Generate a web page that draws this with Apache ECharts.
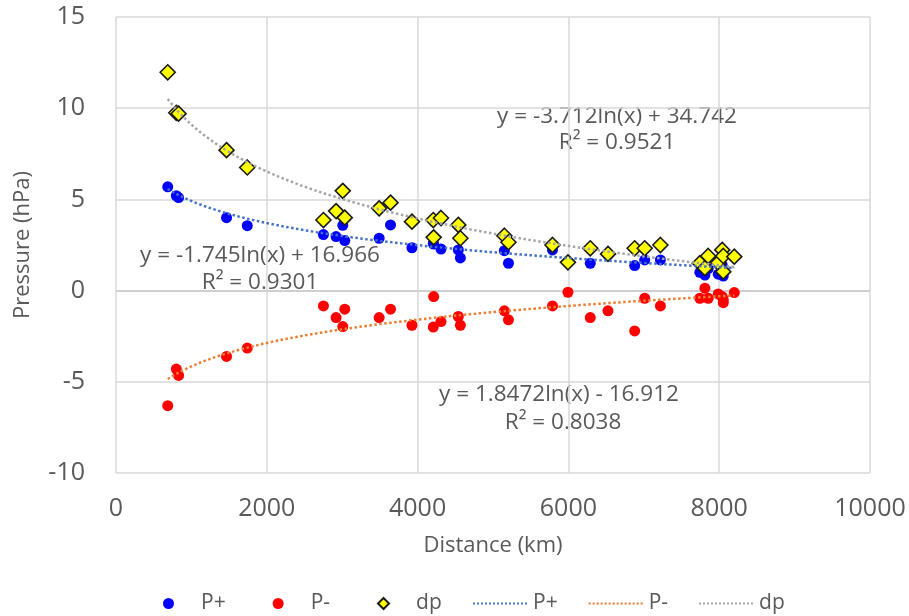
<!DOCTYPE html>
<html>
<head>
<meta charset="utf-8">
<script src="https://cdn.jsdelivr.net/npm/echarts@6/dist/echarts.min.js"></script>
<style>
html, body { margin: 0; padding: 0; background: #fff; }
#main { width: 909px; height: 616px; }
</style>
</head>
<body>
<div id="main"></div>
<script>
/* данные */
let distance = [686, 800, 830, 1466, 1741, 2751, 2919, 3008, 3034, 3490, 3641, 3925, 4208, 4213, 4310, 4540, 4567,
  5151, 5205, 5789, 5994, 6290, 6525, 6879, 7012, 7220, 7743, 7810, 7854, 7987, 8040, 8054, 8054, 8200];
let pPlus = [5.69, 5.2, 5.1, 4.0, 3.56, 3.07, 2.96, 3.58, 2.74, 2.87, 3.6, 2.35, 2.59, 2.55, 2.28, 2.23, 1.79,
  2.19, 1.5, 2.23, 1.59, 1.5, 1.95, 1.37, 1.68, 1.68, 1.0, 0.85, 1.2, 0.9, 1.4, 0.8, 1.1, 1.85];
let pMinus = [-6.31, -4.3, -4.65, -3.61, -3.15, -0.84, -1.48, -1.97, -1.02, -1.48, -1.02, -1.9, -2.0, -0.33, -1.7, -1.42, -1.9,
  -1.11, -1.6, -0.84, -0.09, -1.48, -1.11, -2.21, -0.42, -0.84, -0.42, 0.13, -0.42, -0.18, -0.33, -0.66, -0.5, -0.11];
let dp = [11.97, 9.75, 9.7, 7.7, 6.75, 3.87, 4.36, 5.47, 4.0, 4.51, 4.82, 3.78, 3.87, 2.92, 3.98, 3.6, 2.87,
  3.01, 2.65, 2.5, 1.55, 2.32, 2.01, 2.32, 2.32, 2.5, 1.5, 1.23, 1.9, 1.53, 2.23, 1.04, 1.9, 1.86];

/* линии тренда из уравнений на графике: y = a*ln(x) + b */
let trendPlus = [-1.745, 16.966];
let trendMinus = [1.8472, -16.912];
let trendDp = [-3.712, 34.742];
let eqPlus = ['y = -1.745ln(x) + 16.966', 'R² = 0.9301'];
let eqMinus = ['y = 1.8472ln(x) - 16.912', 'R² = 0.8038'];
let eqDp = ['y = -3.712ln(x) + 34.742', 'R² = 0.9521'];

let xTicks = [0, 2000, 4000, 6000, 8000, 10000];
let yTicks = [-10, -5, 0, 5, 10, 15];

function pairs(ys) {
  return distance.map((d, i) => [d, ys[i]]);
}
function trend(c) {
  let x0 = Math.min.apply(null, distance), x1 = Math.max.apply(null, distance);
  let out = [];
  for (let i = 0; i <= 80; i++) {
    let x = x0 + (x1 - x0) * i / 80;
    out.push([x, c[0] * Math.log(x) + c[1]]);
  }
  return out;
}

let font = 'Open Sans';
let grey = '#595959';
let eqFont = '22.5px "Open Sans"';

var myChart = echarts.init(document.getElementById('main'));
option = {
  backgroundColor: '#ffffff',
  animation: false,
  textStyle: { fontFamily: font },
  grid: { left: 116, right: 39, top: 17, bottom: 143 },
  xAxis: {
    type: 'value',
    min: xTicks[0], max: xTicks[xTicks.length - 1], interval: 2000,
    name: 'Distance (km)', nameLocation: 'middle', nameGap: 62,
    nameTextStyle: { color: grey, fontSize: 22, fontFamily: font },
    axisLine: { show: false },
    axisTick: { show: false },
    axisLabel: { color: grey, fontSize: 25, margin: 23, fontFamily: font, formatter: v => String(v) },
    splitLine: { lineStyle: { color: '#d9d9d9', width: 1.5 } }
  },
  yAxis: {
    type: 'value',
    min: yTicks[0], max: yTicks[yTicks.length - 1], interval: 5,
    name: 'Pressure (hPa)', nameLocation: 'middle', nameGap: 82,
    nameTextStyle: { color: grey, fontSize: 22, fontFamily: font },
    axisLine: { show: false },
    axisTick: { show: false },
    axisLabel: { color: grey, fontSize: 25, margin: 31, fontFamily: font, formatter: v => String(v) },
    splitLine: { lineStyle: { color: ['#d9d9d9', '#d9d9d9', '#bfbfbf', '#d9d9d9', '#d9d9d9', '#d9d9d9'], width: 1.5 } }
  },
  legend: [{
    data: ['P+', 'P-', 'dp'],
    left: 158, top: 588,
    itemWidth: 11, itemHeight: 11, itemGap: 47,
    textStyle: { color: grey, fontSize: 21, fontFamily: font, padding: [0, 0, 0, 22] }
  }, {
    data: ['P+ trend', 'P- trend', 'dp trend'],
    left: 467, top: 588,
    itemWidth: 55, itemHeight: 11, itemGap: 30,
    itemStyle: { opacity: 0 },
    formatter: name => name.replace(' trend', ''),
    textStyle: { color: grey, fontSize: 21, fontFamily: font }
  }],
  series: [
    { name: 'P+', type: 'scatter', data: pairs(pPlus), symbol: 'circle', symbolSize: 11,
      itemStyle: { color: '#0000ff', opacity: 1 }, z: 2 },
    { name: 'P-', type: 'scatter', data: pairs(pMinus), symbol: 'circle', symbolSize: 11,
      itemStyle: { color: '#ff0000', opacity: 1 }, z: 2 },
    { name: 'dp', type: 'scatter', data: pairs(dp), symbol: 'diamond', symbolSize: 15,
      itemStyle: { color: '#ffff00', borderColor: '#1a1a1a', borderWidth: 1.6, opacity: 1 }, z: 3 },
    { name: 'P+ trend', type: 'line', data: trend(trendPlus), symbol: 'none',
      lineStyle: { color: '#4472c4', width: 2.5, type: 'dotted' }, itemStyle: { color: '#4472c4' }, z: 4 },
    { name: 'P- trend', type: 'line', data: trend(trendMinus), symbol: 'none',
      lineStyle: { color: '#ed7d31', width: 2.5, type: 'dotted' }, itemStyle: { color: '#ed7d31' }, z: 4 },
    { name: 'dp trend', type: 'line', data: trend(trendDp), symbol: 'none',
      lineStyle: { color: '#a5a5a5', width: 2.5, type: 'dotted' }, itemStyle: { color: '#a5a5a5' }, z: 4 }
  ],
  graphic: [
    { type: 'text', x: 617, y: 117, style: { text: eqDp[0], fill: grey, font: eqFont, align: 'center', verticalAlign: 'middle' } },
    { type: 'text', x: 617, y: 143, style: { text: eqDp[1], fill: grey, font: eqFont, align: 'center', verticalAlign: 'middle' } },
    { type: 'text', x: 260, y: 256, style: { text: eqPlus[0], fill: grey, font: eqFont, align: 'center', verticalAlign: 'middle' } },
    { type: 'text', x: 260, y: 283, style: { text: eqPlus[1], fill: grey, font: eqFont, align: 'center', verticalAlign: 'middle' } },
    { type: 'text', x: 559, y: 395, style: { text: eqMinus[0], fill: grey, font: eqFont, align: 'center', verticalAlign: 'middle' } },
    { type: 'text', x: 563, y: 423, style: { text: eqMinus[1], fill: grey, font: eqFont, align: 'center', verticalAlign: 'middle' } }
  ]
};
myChart.setOption(option);
</script>
</body>
</html>
